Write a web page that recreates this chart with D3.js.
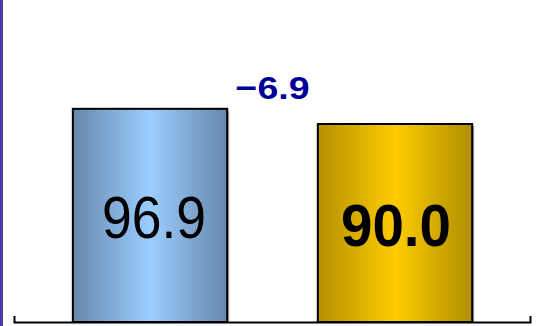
<!DOCTYPE html>
<html>
<head>
<meta charset="utf-8">
<script src="https://cdn.jsdelivr.net/npm/d3@7"></script>
<style>
  html, body { margin: 0; padding: 0; background: #fff; }
  svg { display: block; }
</style>
</head>
<body>
<svg id="chart" width="541" height="326"></svg>
<script>
// ---- data ----
const categories = ["Previous", "Current"];
const values = [96.9, 90.0];
const labelBold = [false, true];
const gradientStops = [
  ["#6688ac", "#9ccdff", "#6688aa"],
  ["#b39000", "#ffcc00", "#af8e00"]
];

const W = 541, H = 326;
const svg = d3.select("#chart");
const defs = svg.append("defs");

// left accent line
svg.append("rect").attr("x", 0).attr("y", 0).attr("width", 3).attr("height", H).attr("fill", "#4a38a6");

const x = d3.scaleBand().domain(categories).range([27.5, 517.5]).paddingInner(0.37).paddingOuter(0.185);
const y = d3.scaleLinear().domain([0, 100]).range([322, 102]);

gradientStops.forEach((s, i) => {
  const g = defs.append("linearGradient").attr("id", "g" + i).attr("x1", "0").attr("x2", "1").attr("y1", "0").attr("y2", "0");
  g.append("stop").attr("offset", "0%").attr("stop-color", s[0]);
  g.append("stop").attr("offset", "50%").attr("stop-color", s[1]);
  g.append("stop").attr("offset", "100%").attr("stop-color", s[2]);
});

const data = categories.map((c, i) => ({ c, v: values[i], i }));

// subtle right-side shadow
svg.selectAll("line.shadow").data(data).join("line")
  .attr("class", "shadow")
  .attr("x1", d => x(d.c) + x.bandwidth() + 1.5)
  .attr("x2", d => x(d.c) + x.bandwidth() + 1.5)
  .attr("y1", d => y(d.v) + 2)
  .attr("y2", y(0))
  .attr("stroke", "#999")
  .attr("stroke-width", 1);

svg.selectAll("rect.bar").data(data).join("rect")
  .attr("class", "bar")
  .attr("x", d => x(d.c))
  .attr("y", d => y(d.v))
  .attr("width", x.bandwidth())
  .attr("height", d => y(0) - y(d.v))
  .attr("fill", d => `url(#g${d.i})`)
  .attr("stroke", "#000")
  .attr("stroke-width", 2);

// value labels
const fmt = d3.format(".1f");
svg.selectAll("text.val").data(data).join("text")
  .attr("class", "val")
  .attr("x", d => x(d.c) + x.bandwidth() / 2 + (d.i === 0 ? 4 : 1))
  .attr("y", d => (y(d.v) + y(0)) / 2 + 23)
  .attr("text-anchor", "middle")
  .attr("font-family", "Liberation Sans, Arial, sans-serif")
  .attr("font-size", 60)
  .attr("font-weight", d => labelBold[d.i] ? "bold" : "normal")
  .attr("textLength", d => labelBold[d.i] ? 110 : 104)
  .attr("lengthAdjust", "spacingAndGlyphs")
  .attr("fill", "#000")
  .text(d => fmt(d.v));

// difference label
const diff = values[1] - values[0];
const cx = (x(categories[0]) + x(categories[1])) / 2 + x.bandwidth() / 2;
svg.append("text")
  .attr("x", cx)
  .attr("y", y(d3.max(values)) - 10)
  .attr("text-anchor", "middle")
  .attr("font-family", "Liberation Sans, Arial, sans-serif")
  .attr("font-size", 32)
  .attr("font-weight", "bold")
  .attr("textLength", 74)
  .attr("lengthAdjust", "spacingAndGlyphs")
  .attr("fill", "#000099")
  .text(fmt(diff));

// axis
const xa = d3.scaleLinear().domain([0, 1]).range([14, 530]);
const axis = svg.append("g").attr("transform", `translate(0,${y(0)})`)
  .call(d3.axisBottom(xa).tickValues([]).tickSizeOuter(-6));
axis.select(".domain").attr("stroke", "#000").attr("stroke-width", 2);
</script>
</body>
</html>
